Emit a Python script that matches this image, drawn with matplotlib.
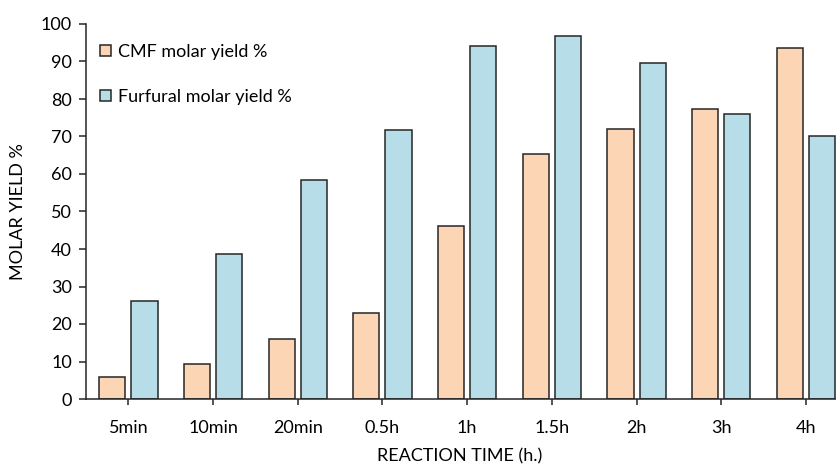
import matplotlib
matplotlib.use("Agg")
import matplotlib.pyplot as plt
import numpy as np

categories = ["5min", "10min", "20min", "0.5h", "1h", "1.5h", "2h", "3h", "4h"]
cmf_yield = [6.0, 9.3, 16.0, 23.0, 46.0, 65.2, 72.0, 77.3, 93.6]
furfural_yield = [26.2, 38.8, 58.5, 71.8, 94.0, 96.8, 89.6, 76.0, 70.0]
y_ticks = [0, 10, 20, 30, 40, 50, 60, 70, 80, 90, 100]

plt.rcParams["font.family"] = ["Lato", "DejaVu Sans"]
FS = 13

W, H = 836, 465
fig = plt.figure(figsize=(W / 100, H / 100), dpi=100)
left, right, bottom, top = 86, 848.3, 399, 24
ax = fig.add_axes([left / W, (H - bottom) / H, (right - left) / W, (bottom - top) / H])

x = np.arange(len(categories))
bw = 0.31
off = 0.19
edge = "#262626"
ax.bar(x - off, cmf_yield, bw, color="#FCD5B5", edgecolor=edge, linewidth=1.1,
       label="CMF molar yield %")
ax.bar(x + off, furfural_yield, bw, color="#B7DEE8", edgecolor=edge, linewidth=1.1,
       label="Furfural molar yield %")

ax.set_xlim(-0.5, len(categories) - 0.5)
ax.set_ylim(0, 100)
ax.set_yticks(y_ticks)
ax.set_xticks(x)
ax.set_xticklabels(categories)

for s in ("top", "right"):
    ax.spines[s].set_visible(False)
for s in ("left", "bottom"):
    ax.spines[s].set_color(edge)
    ax.spines[s].set_linewidth(1.1)

ax.tick_params(axis="y", direction="out", length=5, width=1.1, color=edge,
               labelsize=FS, pad=5)
ax.tick_params(axis="x", direction="out", length=4, width=1.1, color=edge,
               labelsize=FS, pad=11)

ax.set_ylabel("MOLAR YIELD %", fontsize=FS)
ax.yaxis.set_label_coords(-(left - 26) / (right - left), 0.5)
ax.set_xlabel("REACTION TIME (h.)", fontsize=FS)
ax.xaxis.set_label_coords((460 - left) / (right - left), -(448 - bottom) / (bottom - top))

leg = ax.legend(loc="upper left", bbox_to_anchor=(-0.003, 0.99), frameon=False,
                fontsize=FS, handlelength=0.6, handleheight=0.6, handletextpad=0.4,
                labelspacing=1.6)

fig.savefig("out.png", dpi=100)
